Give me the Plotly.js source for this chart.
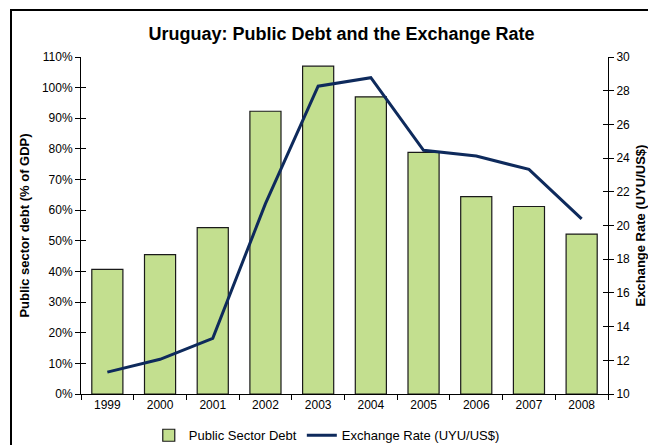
<!DOCTYPE html>
<html>
<head>
<meta charset="utf-8">
<script src="https://cdn.plot.ly/plotly-3.0.1.min.js"></script>
<style>
  html, body { margin: 0; padding: 0; background: #fff; overflow: hidden; }
  #wrap { position: relative; width: 648px; height: 445px; }
  #chart { width: 648px; height: 445px; }
  #frame { position: absolute; left: 10px; top: 9px; width: 700px; height: 500px;
           border: 2px solid #000; pointer-events: none; }
</style>
</head>
<body>
<div id="wrap">
  <div id="chart"></div>
  <div id="frame"></div>
</div>
<script>
const years = ['1999','2000','2001','2002','2003','2004','2005','2006','2007','2008'];
const publicDebt = [0.407, 0.455, 0.543, 0.923, 1.070, 0.970, 0.789, 0.644, 0.612, 0.522];
const exchangeRate = [11.30, 12.06, 13.30, 21.30, 28.27, 28.77, 24.46, 24.12, 23.33, 20.39];
const leftTicks = [0,0.1,0.2,0.3,0.4,0.5,0.6,0.7,0.8,0.9,1.0,1.1];
const rightTicks = [10,12,14,16,18,20,22,24,26,28,30];

const font = 'Liberation Sans, Arial, sans-serif';

const traces = [
  {
    type: 'bar', name: 'Public Sector Debt', x: years, y: publicDebt,
    marker: { color: '#C3DF8F', line: { color: '#1a1a1a', width: 1.2 } },
    hoverinfo: 'skip'
  },
  {
    type: 'scatter', mode: 'lines', name: 'Exchange Rate (UYU/US$)', x: years, y: exchangeRate,
    yaxis: 'y2', line: { color: '#0E2A5C', width: 3 }, hoverinfo: 'skip'
  },
  // empty helper traces so the overlay axes (crossing tick marks) are drawn
  { type: 'scatter', x: [], y: [], xaxis: 'x2', yaxis: 'y', showlegend: false, hoverinfo: 'skip' },
  { type: 'scatter', x: [], y: [], xaxis: 'x', yaxis: 'y3', showlegend: false, hoverinfo: 'skip' },
  { type: 'scatter', x: [], y: [], xaxis: 'x', yaxis: 'y4', showlegend: false, hoverinfo: 'skip' }
];

const layout = {
  width: 648, height: 445,
  margin: { l: 80.5, r: 39.5, t: 56.5, b: 51, autoexpand: false },
  paper_bgcolor: '#fff', plot_bgcolor: '#fff',
  font: { family: font, size: 12, color: '#000' },
  showlegend: true,
  bargap: 0.41,
  title: { text: '<b>Uruguay: Public Debt and the Exchange Rate</b>', font: { size: 18, family: font },
           x: 0.527, xanchor: 'center', y: 0.925, yanchor: 'middle' },
  xaxis: {
    type: 'category', tickmode: 'array', tickvals: years, ticktext: years,
    showgrid: false, zeroline: false, showline: true, linecolor: '#000', linewidth: 1,
    ticks: 'outside', ticklen: 5, tickcolor: '#000', tickson: 'boundaries',
    tickfont: { size: 12 }, range: [-0.5, 9.5], fixedrange: true
  },
  xaxis2: {
    type: 'category', overlaying: 'x', anchor: 'y', side: 'bottom',
    tickmode: 'array', tickvals: years, showticklabels: false,
    showgrid: false, zeroline: false, showline: false,
    ticks: 'inside', ticklen: 5, tickcolor: '#000', tickson: 'boundaries',
    range: [-0.5, 9.5]
  },
  yaxis: {
    range: [0, 1.1], tickmode: 'array', tickvals: leftTicks, tickformat: '.0%',
    showgrid: false, zeroline: false, showline: true, linecolor: '#000', linewidth: 1,
    ticks: 'outside', ticklen: 5, tickcolor: '#000', tickfont: { size: 12 },
    title: { text: '<b>Public sector debt (% of GDP)</b>', font: { size: 13 }, standoff: 9 },
    fixedrange: true
  },
  yaxis3: {
    range: [0, 1.1], overlaying: 'y', side: 'left', anchor: 'x',
    tickmode: 'array', tickvals: leftTicks, showticklabels: false,
    showgrid: false, zeroline: false, showline: false,
    ticks: 'inside', ticklen: 5, tickcolor: '#000'
  },
  yaxis2: {
    range: [10, 30], overlaying: 'y', side: 'right', anchor: 'x',
    tickmode: 'array', tickvals: rightTicks,
    showgrid: false, zeroline: false, showline: true, linecolor: '#000', linewidth: 1,
    ticks: 'outside', ticklen: 5, tickcolor: '#000', tickfont: { size: 12 },
    title: { text: '<b>Exchange Rate (UYU/US$)</b>', font: { size: 13 }, standoff: 11 },
    fixedrange: true
  },
  yaxis4: {
    range: [10, 30], overlaying: 'y', side: 'right', anchor: 'x',
    tickmode: 'array', tickvals: rightTicks, showticklabels: false,
    showgrid: false, zeroline: false, showline: false,
    ticks: 'inside', ticklen: 5, tickcolor: '#000'
  },
  legend: {
    orientation: 'h', x: 0.1286, xanchor: 'left', y: -0.078, yanchor: 'top',
    font: { size: 13 }, bgcolor: 'rgba(0,0,0,0)', traceorder: 'normal'
  }
};

Plotly.newPlot('chart', traces, layout, { displayModeBar: false, staticPlot: true });
</script>
</body>
</html>
